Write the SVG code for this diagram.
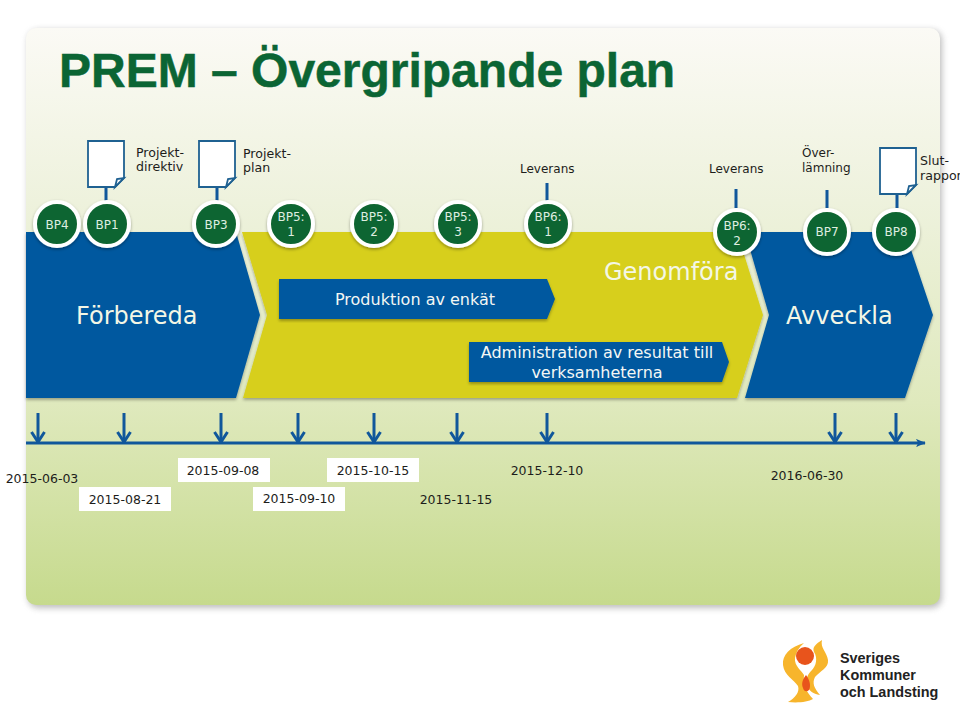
<svg xmlns="http://www.w3.org/2000/svg" width="960" height="719" viewBox="0 0 960 719">
<style>
text{font-family:"DejaVu Sans",Verdana,sans-serif;fill:#1d1d1b}
.lab{font-size:12px}
.lab2{font-size:12.6px}
.bp{font-size:12px;fill:#dfeee0;text-anchor:middle}
.big{font-size:24px;fill:#f4f7e6}
.wh{font-size:16px;fill:#f4f7f4;text-anchor:middle}
.dt{font-size:12.5px;text-anchor:middle}
.ci{fill:#0f6530;stroke:#fff;stroke-width:4;filter:url(#cs)}
.st{stroke:#10579b;stroke-width:3;fill:none}
.doc{fill:#fff;stroke:#1f6191;stroke-width:1.8}
.blue{fill:#04589f}
.yel{fill:#d7cf1b}
.lg{font-family:"Liberation Sans",Arial,sans-serif;font-size:14.4px;font-weight:700;fill:#222}
</style>
<defs>
<linearGradient id="bg" x1="0" y1="0" x2="0" y2="1">
<stop offset="0" stop-color="#fbfaf5"/><stop offset="0.3" stop-color="#eef2dd"/><stop offset="0.65" stop-color="#dfe9bd"/><stop offset="1" stop-color="#c6da8d"/>
</linearGradient>
<filter id="ps" x="-3%" y="-3%" width="106%" height="106%"><feGaussianBlur stdDeviation="3"/></filter>
<filter id="cs" x="-20%" y="-20%" width="140%" height="150%"><feDropShadow dx="0" dy="1.5" stdDeviation="1.5" flood-color="#000" flood-opacity="0.35"/></filter>
<filter id="ss" x="-5%" y="-5%" width="110%" height="115%"><feDropShadow dx="0" dy="2" stdDeviation="1.5" flood-color="#000" flood-opacity="0.3"/></filter>
<marker id="ah" viewBox="0 0 12 10" refX="11" refY="5" markerWidth="10" markerHeight="9" markerUnits="userSpaceOnUse" orient="auto"><path d="M0 0L12 5L0 10L3 5Z" fill="#10579b"/></marker>
<marker id="vh" viewBox="0 0 14 16" refX="12" refY="8" markerWidth="14" markerHeight="16" markerUnits="userSpaceOnUse" orient="auto"><path d="M2 1.5L12 8L2 14.5" fill="none" stroke="#10579b" stroke-width="3"/></marker>
<path id="docp" d="M0 0H36V37L27 46H0Z"/>
</defs>
<rect width="960" height="719" fill="#fff"/>
<rect x="28" y="30" width="914" height="578" rx="10" fill="#888" opacity="0.55" filter="url(#ps)"/>
<rect x="26" y="28" width="914" height="577" rx="10" fill="url(#bg)"/>
<text x="59" y="87" style="font-family:'Liberation Sans',Arial,sans-serif;font-size:48px;font-weight:700;fill:#0b6534;stroke:#0b6534;stroke-width:0.5">PREM – Övergripande plan</text>

<g id="phase-forbereda"><path class="blue" filter="url(#ss)" d="M26 232H236L260 315L236 398H26Z"/><text class="big" x="76" y="324">Förbereda</text></g>
<g id="phase-genomfora"><path class="yel" filter="url(#ss)" d="M242 232H737L763 315L737 398H243L267 315Z"/><text class="big" x="604" y="280">Genomföra</text></g>
<g id="phase-avveckla"><path class="blue" filter="url(#ss)" d="M745 398L769 315L745 232H905L933 315L905 398Z"/><text class="big" x="786" y="324">Avveckla</text></g>
<g id="bar-produktion"><path class="blue" filter="url(#ss)" d="M279 279H547L555 299L547 319H279Z"/><text class="wh" x="415" y="305">Produktion av enkät</text></g>
<g id="bar-administration"><path class="blue" filter="url(#ss)" d="M469 342H722L729 362L722 382H469Z"/><text class="wh" x="597" y="358">Administration av resultat till</text><text class="wh" x="597" y="378">verksamheterna</text></g>

<g id="connectors">
<path class="st" d="M106 186V204M217 186V204M547 183V204M736 189V208M827 190V208M897 193V208"/>
<path class="st" marker-end="url(#ah)" d="M26 443H925"/>
<path class="st" marker-end="url(#vh)" d="M38 413V442"/>
<path class="st" marker-end="url(#vh)" d="M124 413V442"/>
<path class="st" marker-end="url(#vh)" d="M221 413V442"/>
<path class="st" marker-end="url(#vh)" d="M298 413V442"/>
<path class="st" marker-end="url(#vh)" d="M374 413V442"/>
<path class="st" marker-end="url(#vh)" d="M457 413V442"/>
<path class="st" marker-end="url(#vh)" d="M547 413V442"/>
<path class="st" marker-end="url(#vh)" d="M835 413V442"/>
<path class="st" marker-end="url(#vh)" d="M896 413V442"/>
</g>

<g id="doc1"><use href="#docp" class="doc" x="88" y="141"/><path class="doc" d="M115 187L124 178L117 179Z"/><text class="lab2" x="136" y="157">Projekt-</text><text class="lab2" x="136" y="171">direktiv</text></g>
<g id="doc2"><use href="#docp" class="doc" x="199" y="141"/><path class="doc" d="M226 187L235 178L228 179Z"/><text class="lab2" x="243" y="158">Projekt-</text><text class="lab2" x="243" y="172">plan</text></g>
<g id="doc3"><use href="#docp" class="doc" x="880" y="148"/><path class="doc" d="M907 194L916 185L909 186Z"/><text class="lab2" x="920" y="165">Slut-</text><text class="lab2" x="920" y="180">rapport</text></g>
<g id="lab-leverans1"><text class="lab" x="520" y="173">Leverans</text></g>
<g id="lab-leverans2"><text class="lab" x="709" y="173">Leverans</text></g>
<g id="lab-overlamning"><text class="lab" x="802" y="157">Över-</text><text class="lab" x="802" y="172">lämning</text></g>

<g id="bp4"><circle class="ci" cx="57" cy="224" r="22"/><text class="bp" x="57" y="229">BP4</text></g>
<g id="bp1"><circle class="ci" cx="107" cy="224" r="22"/><text class="bp" x="107" y="229">BP1</text></g>
<g id="bp3"><circle class="ci" cx="216" cy="224" r="22"/><text class="bp" x="216" y="229">BP3</text></g>
<g id="bp5-1"><circle class="ci" cx="291" cy="224" r="22"/><text class="bp" x="291" y="221">BP5:</text><text class="bp" x="291" y="236">1</text></g>
<g id="bp5-2"><circle class="ci" cx="374" cy="224" r="22"/><text class="bp" x="374" y="221">BP5:</text><text class="bp" x="374" y="236">2</text></g>
<g id="bp5-3"><circle class="ci" cx="458" cy="224" r="22"/><text class="bp" x="458" y="221">BP5:</text><text class="bp" x="458" y="236">3</text></g>
<g id="bp6-1"><circle class="ci" cx="548" cy="224" r="22"/><text class="bp" x="548" y="221">BP6:</text><text class="bp" x="548" y="236">1</text></g>
<g id="bp6-2"><circle class="ci" cx="737" cy="232" r="22"/><text class="bp" x="737" y="230">BP6:</text><text class="bp" x="737" y="245">2</text></g>
<g id="bp7"><circle class="ci" cx="827" cy="232" r="22"/><text class="bp" x="827" y="236">BP7</text></g>
<g id="bp8"><circle class="ci" cx="896" cy="232" r="22"/><text class="bp" x="896" y="236">BP8</text></g>

<g id="dates">
<rect x="79" y="487" width="92" height="24" fill="#fff"/>
<rect x="178" y="458" width="92" height="24" fill="#fff"/>
<rect x="253" y="487" width="92" height="24" fill="#fff"/>
<rect x="327" y="458" width="92" height="24" fill="#fff"/>
<text class="dt" x="42" y="483">2015-06-03</text>
<text class="dt" x="125" y="504">2015-08-21</text>
<text class="dt" x="223" y="475">2015-09-08</text>
<text class="dt" x="299" y="503">2015-09-10</text>
<text class="dt" x="373" y="475">2015-10-15</text>
<text class="dt" x="456" y="504">2015-11-15</text>
<text class="dt" x="547" y="475">2015-12-10</text>
<text class="dt" x="807" y="480">2016-06-30</text>
</g>

<g id="logo">
<path fill="#f7b52c" d="M804 643C790 647 782 655 783 665C784 675 794 680 798 686C800 692 795 698 788 702C798 703 808 702 813 699C806 692 803 684 804 675C802 671 794 666 795 658C796 652 799 647 804 643Z"/>
<path fill="#f7b52c" d="M822 640C816 644 812 647 814 652C818 658 816 666 812 670C808 674 806 678 806 684C808 690 813 694 820 695C814 688 812 683 815 677C820 671 829 668 828 660C827 652 820 648 822 640Z"/>
<circle cx="805" cy="656" r="9" fill="#e8541c"/>
<path fill="#e8541c" d="M806 675C810 680 811 686 809 690C807 692 804 692 803 688C801 683 803 679 806 675Z"/>
<text class="lg" x="840" y="663">Sveriges</text>
<text class="lg" x="840" y="680">Kommuner</text>
<text class="lg" x="840" y="697">och Landsting</text>
</g>
</svg>
